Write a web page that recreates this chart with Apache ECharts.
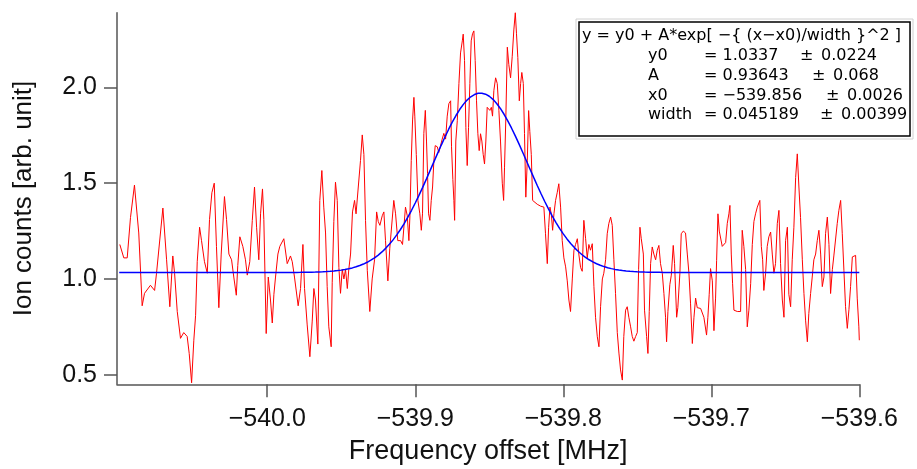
<!DOCTYPE html>
<html>
<head>
<meta charset="utf-8">
<script src="https://cdn.jsdelivr.net/npm/echarts@6/dist/echarts.min.js"></script>
<style>
  html, body { margin: 0; padding: 0; background: #fff; }
  #chart { width: 917px; height: 469px; }
</style>
</head>
<body>
<div id="chart"></div>
<script>
// Scan frequencies (MHz offset) and measured ion counts
const freqMHz = [
  -540.0996,-540.0969,-540.0946,-540.0924,-540.0897,-540.0868,-540.0845,-540.0829,-540.0789,-540.0761,
  -540.0748,-540.0705,-540.0680,-540.0658,-540.0638,-540.0626,-540.0608,-540.0586,-540.0564,-540.0541,
  -540.0527,-540.0511,-540.0496,-540.0484,-540.0473,-540.0457,-540.0444,-540.0424,-540.0405,-540.0390,
  -540.0374,-540.0358,-540.0343,-540.0327,-540.0311,-540.0289,-540.0275,-540.0259,-540.0241,-540.0226,
  -540.0209,-540.0199,-540.0185,-540.0165,-540.0147,-540.0135,-540.0118,-540.0101,-540.0086,-540.0072,
  -540.0057,-540.0045,-540.0032,-540.0023,-540.0007,-539.9993,-539.9978,-539.9966,-539.9955,-539.9944,
  -539.9928,-539.9915,-539.9888,-539.9865,-539.9843,-539.9831,-539.9816,-539.9791,-539.9775,-539.9759,
  -539.9748,-539.9730,-539.9712,-539.9696,-539.9685,-539.9674,-539.9658,-539.9645,-539.9631,-539.9618,
  -539.9606,-539.9595,-539.9584,-539.9568,-539.9561,-539.9550,-539.9539,-539.9527,-539.9516,-539.9505,
  -539.9493,-539.9482,-539.9471,-539.9459,-539.9449,-539.9437,-539.9424,-539.9410,-539.9400,-539.9388,
  -539.9370,-539.9358,-539.9347,-539.9336,-539.9324,-539.9307,-539.9291,-539.9275,-539.9261,-539.9250,
  -539.9239,-539.9223,-539.9212,-539.9201,-539.9185,-539.9172,-539.9145,-539.9133,-539.9118,-539.9099,
  -539.9086,-539.9066,-539.9054,-539.9043,-539.9036,-539.9027,-539.9018,-539.9009,-539.9003,-539.8993,
  -539.8982,-539.8969,-539.8959,-539.8951,-539.8942,-539.8932,-539.8924,-539.8917,-539.8910,-539.8901,
  -539.8892,-539.8883,-539.8874,-539.8865,-539.8851,-539.8841,-539.8829,-539.8818,-539.8807,-539.8795,
  -539.8784,-539.8773,-539.8761,-539.8755,-539.8746,-539.8739,-539.8734,-539.8726,-539.8716,-539.8705,
  -539.8694,-539.8682,-539.8676,-539.8667,-539.8658,-539.8649,-539.8640,-539.8631,-539.8622,-539.8613,
  -539.8604,-539.8595,-539.8586,-539.8577,-539.8568,-539.8559,-539.8550,-539.8541,-539.8532,-539.8523,
  -539.8514,-539.8505,-539.8496,-539.8486,-539.8478,-539.8469,-539.8457,-539.8446,-539.8435,-539.8424,
  -539.8412,-539.8403,-539.8397,-539.8388,-539.8378,-539.8368,-539.8356,-539.8345,-539.8334,-539.8324,
  -539.8316,-539.8307,-539.8297,-539.8288,-539.8280,-539.8270,-539.8262,-539.8253,-539.8243,-539.8234,
  -539.8226,-539.8216,-539.8207,-539.8199,-539.8176,-539.8153,-539.8131,-539.8120,-539.8108,-539.8099,
  -539.8090,-539.8081,-539.8072,-539.8063,-539.8052,-539.8041,-539.8030,-539.8018,-539.8007,-539.7996,
  -539.7984,-539.7973,-539.7962,-539.7951,-539.7939,-539.7928,-539.7917,-539.7905,-539.7895,-539.7883,
  -539.7872,-539.7861,-539.7849,-539.7838,-539.7827,-539.7816,-539.7804,-539.7793,-539.7782,-539.7770,
  -539.7759,-539.7748,-539.7736,-539.7726,-539.7714,-539.7703,-539.7692,-539.7680,-539.7669,-539.7658,
  -539.7647,-539.7635,-539.7624,-539.7613,-539.7601,-539.7591,-539.7579,-539.7568,-539.7557,-539.7545,
  -539.7534,-539.7523,-539.7511,-539.7500,-539.7491,-539.7482,-539.7473,-539.7459,-539.7451,-539.7437,
  -539.7428,-539.7419,-539.7410,-539.7399,-539.7388,-539.7376,-539.7365,-539.7354,-539.7343,-539.7331,
  -539.7320,-539.7309,-539.7302,-539.7293,-539.7280,-539.7270,-539.7257,-539.7248,-539.7234,-539.7226,
  -539.7212,-539.7203,-539.7189,-539.7174,-539.7162,-539.7151,-539.7140,-539.7128,-539.7117,-539.7106,
  -539.7095,-539.7072,-539.7050,-539.7032,-539.7023,-539.7014,-539.7005,-539.6993,-539.6982,-539.6971,
  -539.6964,-539.6955,-539.6946,-539.6937,-539.6926,-539.6915,-539.6903,-539.6892,-539.6881,-539.6874,
  -539.6865,-539.6856,-539.6847,-539.6824,-539.6802,-539.6791,-539.6780,-539.6768,-539.6757,-539.6746,
  -539.6734,-539.6723,-539.6712,-539.6701,-539.6689,-539.6672,-539.6662,-539.6653,-539.6645,-539.6633,
  -539.6622,-539.6611,-539.6599,-539.6588,-539.6577,-539.6566,-539.6554,-539.6543,-539.6532,-539.6520,
  -539.6509,-539.6498,-539.6486,-539.6476,-539.6464,-539.6453,-539.6442,-539.6430,-539.6419,-539.6408,
  -539.6397,-539.6385,-539.6374,-539.6363,-539.6351,-539.6341,-539.6329,-539.6318,-539.6307,-539.6295,
  -539.6284,-539.6273,-539.6261,-539.6250,-539.6239,-539.6228,-539.6216,-539.6205,-539.6194,-539.6182,
  -539.6172,-539.6160,-539.6149,-539.6138,-539.6126,-539.6115,-539.6104,-539.6093,-539.6081,-539.6070,
  -539.6059,-539.6047,-539.6036,-539.6025,-539.6014,-539.6003,-539.6000
];
const ionCounts = [
  1.18,1.11,1.11,1.32,1.49,1.24,0.86,0.925,0.967,0.94,
  1.03,1.37,1.10,0.855,1.12,1.03,0.83,0.69,0.72,0.70,
  0.61,0.458,0.68,0.81,1.09,1.27,1.20,1.09,1.03,1.31,
  1.45,1.50,1.17,0.85,1.13,1.43,1.31,1.13,1.10,1.01,
  0.915,1.07,1.22,1.17,1.10,1.02,1.09,1.305,1.48,1.27,
  1.10,1.34,1.47,1.31,0.715,1.01,0.89,0.77,0.92,1.01,
  1.13,1.17,1.21,1.08,1.12,1.09,1.01,0.86,0.95,1.18,
  0.95,0.76,0.594,0.78,0.95,0.89,0.66,1.41,1.566,1.375,
  1.24,0.96,0.75,0.646,0.98,1.30,1.505,1.41,1.06,0.925,
  1.05,1.00,1.05,0.95,1.05,1.13,1.35,1.41,1.34,1.34,
  1.618,1.752,1.65,1.306,1.045,0.83,1.00,1.10,1.35,1.30,
  1.28,1.33,1.35,1.20,0.99,1.16,1.41,1.34,1.20,1.20,
  1.18,1.375,1.33,1.20,1.33,1.618,1.83,1.948,1.85,1.65,
  1.41,1.34,1.254,1.34,1.76,1.88,1.72,1.55,1.34,1.306,
  1.41,1.48,1.62,1.696,1.69,1.66,1.65,1.73,1.76,1.73,
  1.85,1.915,1.93,1.69,1.52,1.41,1.306,1.72,1.826,2.02,
  2.18,2.243,2.278,2.14,1.79,1.592,1.79,2.02,2.243,2.28,
  2.295,2.14,1.93,1.758,1.67,1.758,1.72,1.65,1.60,1.72,
  1.896,1.896,1.88,1.896,1.85,1.983,2.05,2.02,1.88,1.72,
  1.50,1.41,1.58,1.84,2.21,2.12,2.05,2.16,2.30,2.39,
  2.28,2.156,1.93,2.02,2.078,2.02,1.76,1.427,1.62,1.879,
  1.77,1.65,1.41,1.40,1.39,1.38,1.375,1.236,1.08,1.27,
  1.375,1.34,1.254,1.34,1.41,1.45,1.497,1.375,1.20,1.11,
  1.063,0.99,0.89,0.83,1.00,1.15,1.18,1.21,1.13,1.06,
  1.04,1.306,1.21,1.11,1.18,1.15,1.184,0.96,0.80,0.698,
  0.646,0.855,1.00,1.03,1.10,1.236,1.29,1.323,1.28,1.10,
  0.925,0.72,0.613,0.525,0.472,0.70,0.837,0.855,0.80,0.75,
  0.70,0.675,0.70,0.72,1.05,1.27,1.21,1.13,0.837,0.70,
  0.611,0.83,1.08,1.167,1.13,1.10,1.15,1.175,1.08,1.03,
  0.924,0.80,0.672,0.83,0.97,1.02,1.175,1.08,0.80,0.85,
  1.03,1.236,1.25,1.24,1.13,1.03,0.87,0.663,0.80,0.90,
  0.85,0.846,0.80,0.707,0.80,0.92,1.054,0.99,0.73,0.90,
  1.097,1.34,1.25,1.24,1.17,1.16,1.19,1.29,1.34,1.384,
  1.13,0.975,0.837,0.83,0.83,1.254,1.17,1.05,0.75,0.837,
  0.975,1.18,1.30,1.34,1.375,1.41,1.17,1.10,0.94,1.03,
  1.17,1.22,1.245,1.13,1.03,1.08,1.29,1.358,1.08,0.89,
  0.80,1.20,1.27,0.92,0.855,1.10,1.27,1.53,1.653,1.48,
  1.32,1.10,0.924,0.785,0.672,0.82,0.924,1.01,1.10,1.13,
  1.20,1.254,1.13,0.96,1.01,1.236,1.323,1.18,0.924,1.05,
  1.12,1.13,1.29,1.358,1.41,1.236,1.045,0.855,0.742,0.84,
  0.96,1.115,1.123,1.123,0.90,0.75,0.68
];

// Gaussian fit results: y = y0 + A*exp[-((x-x0)/width)^2]
const fitY0 = 1.0337;
const fitA = 0.93643;
const fitX0 = -539.856;
const fitWidth = 0.045189;
const fitStart = -540.1;
const fitEnd = -539.6;
const fitSamples = 200;

// Axis ticks
const xTickValues = [-540.0, -539.9, -539.8, -539.7, -539.6];
const yTickValues = [0.5, 1.0, 1.5, 2.0];

// Fit-report box text
const fitHeader = 'y = y0 + A*exp[ \u2212{ (x\u2212x0)/width }^2 ]';
const fitNames = ['y0', 'A', 'x0', 'width'];
const fitValues = ['= 1.0337', '= 0.93643', '= \u2212539.856', '= 0.045189'];
const fitErrors = ['0.0224', '0.068', '0.0026', '0.00399'];

const measured = freqMHz.map((f, i) => [f, ionCounts[i]]);
const fitCurve = [];
for (let i = 0; i <= fitSamples; i++) {
  const x = fitStart + (fitEnd - fitStart) * i / fitSamples;
  const u = (x - fitX0) / fitWidth;
  fitCurve.push([x, fitY0 + fitA * Math.exp(-u * u)]);
}

const FONT = "'Liberation Sans', Arial, sans-serif";
const BOX_FONT = "16px 'DejaVu Sans', sans-serif";
const axisColor = '#555';
const minus = s => s.replace('-', '\u2212');

// fit-report box layout
const boxLeft = 579, boxTop = 22, boxW = 331, boxH = 114;
const rowY = [36, 56, 76, 96, 115];
const headerX = 582;
const nameX = 648, valueX = 704;
const pmX = [800, 812, 826, 820];

function boxText(x, y, text) {
  return { type: 'text', z: 12, x: x, y: y,
    style: { text: text, font: BOX_FONT, fill: '#000', verticalAlign: 'middle' } };
}
const graphics = [
  { type: 'rect', z: 10, shape: { x: boxLeft - 3, y: boxTop - 3, width: boxW + 6, height: boxH + 6 },
    style: { fill: 'none', stroke: '#d0d0d0', lineWidth: 1 } },
  { type: 'rect', z: 11, shape: { x: boxLeft, y: boxTop, width: boxW, height: boxH },
    style: { fill: '#fff', stroke: '#000', lineWidth: 1.5 } },
  boxText(headerX, rowY[0], fitHeader)
];
fitNames.forEach((n, i) => {
  graphics.push(boxText(nameX, rowY[i + 1], n));
  graphics.push(boxText(valueX, rowY[i + 1], fitValues[i]));
  graphics.push(boxText(pmX[i], rowY[i + 1], '\u00b1'));
  graphics.push(boxText(pmX[i] + 21, rowY[i + 1], fitErrors[i]));
});

const chart = echarts.init(document.getElementById('chart'), null, { renderer: 'canvas' });
chart.setOption({
  animation: false,
  backgroundColor: '#fff',
  grid: { left: 117, top: 12.7, right: 57.7, bottom: 84.7, containLabel: false, outerBoundsMode: 'none' },
  xAxis: {
    type: 'value',
    min: -540.1015,
    max: -539.6,
    name: 'Frequency offset [MHz]',
    nameLocation: 'middle',
    nameGap: 54,
    nameTextStyle: { fontFamily: FONT, fontSize: 27, color: '#111', verticalAlign: 'top' },
    axisLine: { show: true, lineStyle: { color: axisColor, width: 1.5 } },
    axisTick: { show: true, customValues: xTickValues, length: 13, lineStyle: { color: axisColor, width: 1.5 } },
    axisLabel: { customValues: xTickValues, margin: 22, fontFamily: FONT, fontSize: 25, color: '#111',
      formatter: v => minus(v.toFixed(1)) },
    splitLine: { show: false }
  },
  yAxis: {
    type: 'value',
    min: 0.45,
    max: 2.39,
    name: 'Ion counts [arb. unit]',
    nameLocation: 'middle',
    nameGap: 80,
    nameTextStyle: { fontFamily: FONT, fontSize: 26, color: '#111' },
    axisLine: { show: true, lineStyle: { color: axisColor, width: 1.5 } },
    axisTick: { show: true, customValues: yTickValues, length: 13, lineStyle: { color: axisColor, width: 1.5 } },
    axisLabel: { customValues: yTickValues, margin: 20, fontFamily: FONT, fontSize: 25, color: '#111',
      formatter: v => v.toFixed(1) },
    splitLine: { show: false }
  },
  series: [
    {
      type: 'line', name: 'data', data: measured, showSymbol: false, symbol: 'none',
      lineStyle: { color: '#ff0000', width: 1 }, z: 2
    },
    {
      type: 'line', name: 'fit', data: fitCurve, showSymbol: false, symbol: 'none',
      lineStyle: { color: '#0000ff', width: 1.5 }, z: 3
    }
  ],
  graphic: graphics
});
</script>
</body>
</html>
